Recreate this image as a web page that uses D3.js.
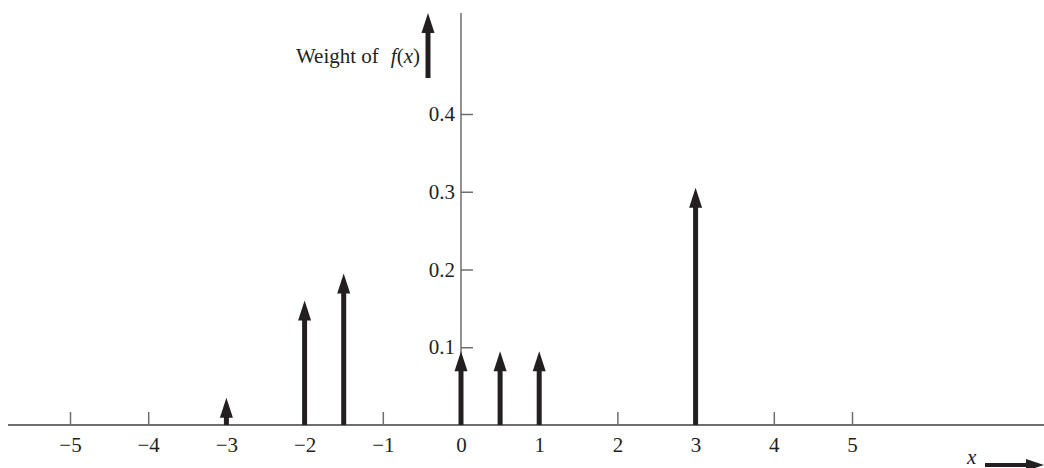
<!DOCTYPE html>
<html>
<head>
<meta charset="utf-8">
<script src="https://cdn.jsdelivr.net/npm/d3@7"></script>
<style>
  html, body { margin: 0; padding: 0; background: #fff; }
  svg { display: block; }
  svg text { font-family: 'Liberation Serif', 'DejaVu Serif', serif; }
</style>
</head>
<body>
<script>
// impulse positions and their weights
var positions = [-3, -2, -1.5, 0, 0.5, 1, 3];
var weights = [0.035, 0.16, 0.195, 0.095, 0.095, 0.095, 0.305];

var xTicks = [-5, -4, -3, -2, -1, 0, 1, 2, 3, 4, 5];
var yTicks = [0.1, 0.2, 0.3, 0.4];

var width = 1044, height = 468;
var ink = '#231f20';
var axisColor = '#6d6e71';
var fontSize = '21px';

var svg = d3.select('body')
  .append('svg')
  .attr('width', width)
  .attr('height', height);

// scales
var x = d3.scaleLinear().domain([-5, 5]).range([70, 852]);
var y = d3.scaleLinear().domain([0, 0.4]).range([425, 114]);

// x axis line across the whole width
svg.append('line')
  .attr('x1', 8).attr('x2', width)
  .attr('y1', y(0)).attr('y2', y(0))
  .attr('stroke', axisColor)
  .attr('stroke-width', 2);

// x ticks pointing upward, labels below
var xAxis = d3.axisBottom(x)
  .tickValues(xTicks)
  .tickSizeInner(-13)
  .tickSizeOuter(0)
  .tickPadding(12)
  .tickFormat(function(d) { return d < 0 ? '\u2212' + Math.abs(d) : String(d); });

var gx = svg.append('g')
  .attr('transform', 'translate(0,' + y(0) + ')')
  .call(xAxis)
  .attr('font-family', null)
  .attr('font-size', null);
gx.select('.domain').remove();
gx.selectAll('.tick line').attr('stroke', axisColor).attr('stroke-width', 1.5);
gx.selectAll('.tick text')
  .attr('fill', ink)
  .style('font-size', fontSize);

// y axis line
svg.append('line')
  .attr('x1', x(0)).attr('x2', x(0))
  .attr('y1', 13).attr('y2', y(0))
  .attr('stroke', axisColor)
  .attr('stroke-width', 1.5);

// y ticks extend to the right, labels to the left
var yAxis = d3.axisLeft(y)
  .tickValues(yTicks)
  .tickSizeInner(-12)
  .tickSizeOuter(0)
  .tickPadding(6)
  .tickFormat(d3.format('.1f'));

var gy = svg.append('g')
  .attr('transform', 'translate(' + x(0) + ',0)')
  .call(yAxis)
  .attr('font-family', null)
  .attr('font-size', null);
gy.select('.domain').remove();
gy.selectAll('.tick line').attr('stroke', axisColor).attr('stroke-width', 1.5);
gy.selectAll('.tick text')
  .attr('fill', ink)
  .style('font-size', fontSize);

// arrow helper: vertical shaft with triangular head
function upArrow(g, cx, yBase, yTip) {
  var headH = 20, headW = 13;
  g.append('line')
    .attr('x1', cx).attr('x2', cx)
    .attr('y1', yBase).attr('y2', yTip + headH - 2)
    .attr('stroke', ink)
    .attr('stroke-width', 5);
  g.append('path')
    .attr('d', 'M' + cx + ',' + yTip +
      'L' + (cx + headW / 2) + ',' + (yTip + headH) +
      'L' + (cx - headW / 2) + ',' + (yTip + headH) + 'Z')
    .attr('fill', ink);
}

// impulses
var impulses = svg.append('g').attr('class', 'impulses');
positions.forEach(function(p, i) {
  upArrow(impulses, x(p), y(0), y(weights[i]));
});

// y label with arrow
var lab = svg.append('text')
  .attr('x', 420)
  .attr('y', 63)
  .attr('text-anchor', 'end')
  .attr('fill', ink)
  .style('font-size', fontSize);
lab.append('tspan').text('Weight of');
lab.append('tspan').attr('dx', 12).style('font-style', 'italic').text('f');
lab.append('tspan').text('(');
lab.append('tspan').style('font-style', 'italic').text('x');
lab.append('tspan').text(')');
upArrow(svg, 428, 78, 13);

// x label with arrow
svg.append('text')
  .attr('x', 967)
  .attr('y', 464)
  .attr('fill', ink)
  .style('font-size', fontSize)
  .style('font-style', 'italic')
  .text('x');

svg.append('line')
  .attr('x1', 985).attr('x2', 1030)
  .attr('y1', 465).attr('y2', 465)
  .attr('stroke', ink)
  .attr('stroke-width', 4);
svg.append('path')
  .attr('d', 'M1044,465L1026,459L1026,471Z')
  .attr('fill', ink);
</script>
</body>
</html>
